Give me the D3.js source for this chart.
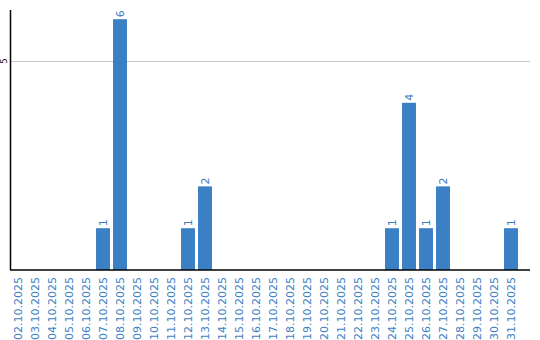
<!DOCTYPE html>
<html>
<head>
<meta charset="utf-8">
<script src="https://cdn.jsdelivr.net/npm/d3@7"></script>
<style>
  body { margin: 0; background: #fff; }
  svg { display: block; font-family: "DejaVu Sans", Verdana, sans-serif; }
</style>
</head>
<body>
<script>
'use strict';

// categories (days) and counts
const days = ["02.10.2025", "03.10.2025", "04.10.2025", "05.10.2025", "06.10.2025",
  "07.10.2025", "08.10.2025", "09.10.2025", "10.10.2025", "11.10.2025",
  "12.10.2025", "13.10.2025", "14.10.2025", "15.10.2025", "16.10.2025",
  "17.10.2025", "18.10.2025", "19.10.2025", "20.10.2025", "21.10.2025",
  "22.10.2025", "23.10.2025", "24.10.2025", "25.10.2025", "26.10.2025",
  "27.10.2025", "28.10.2025", "29.10.2025", "30.10.2025", "31.10.2025"];
const counts = [0, 0, 0, 0, 0, 1, 6, 0, 0, 0, 1, 2, 0, 0, 0,
  0, 0, 0, 0, 0, 0, 0, 1, 4, 1, 2, 0, 0, 0, 1];
const yTicks = [5];

const barColor = "#3b7fc4";

let svg = d3.select('body').append('svg')
  .attr('width', 540)
  .attr('height', 340);

let x = d3.scaleBand()
  .domain(days)
  .range([9.5, 519.5])
  .paddingInner(0.18)
  .paddingOuter(0.09);

let y = d3.scaleLinear()
  .domain([0, 6.22])
  .range([270, 10]);

// grid lines
svg.append('g')
  .selectAll('line')
  .data(yTicks)
  .enter()
  .append('line')
  .attr('x1', 11)
  .attr('x2', 530)
  .attr('y1', d => Math.round(y(d)) + 0.5)
  .attr('y2', d => Math.round(y(d)) + 0.5)
  .attr('stroke', '#c8c8c8')
  .attr('stroke-width', 1);

// y tick labels
svg.append('g')
  .selectAll('text')
  .data(yTicks)
  .enter()
  .append('text')
  .attr('transform', d => 'translate(7,' + y(d) + ')rotate(-90)')
  .attr('text-anchor', 'middle')
  .style('font-size', '8px')
  .attr('fill', '#000')
  .text(d => d);

// bars
let data = days.map((d, i) => ({ day: d, v: counts[i] }));

svg.append('g')
  .selectAll('rect')
  .data(data.filter(d => d.v > 0))
  .enter()
  .append('rect')
  .attr('x', d => x(d.day))
  .attr('y', d => y(d.v))
  .attr('width', x.bandwidth())
  .attr('height', d => y(0) - y(d.v))
  .attr('fill', barColor);

// value labels
svg.append('g')
  .selectAll('text')
  .data(data.filter(d => d.v > 0))
  .enter()
  .append('text')
  .attr('transform', d => 'translate(' + (x(d.day) + x.bandwidth() / 2 + 4) + ',' + (y(d.v) - 2) + ')rotate(-90)')
  .attr('text-anchor', 'start')
  .style('font-size', '11px')
  .attr('fill', barColor)
  .text(d => d.v);

// axes lines
svg.append('line')
  .attr('x1', 10.5).attr('x2', 10.5)
  .attr('y1', 10).attr('y2', 270)
  .attr('stroke', '#000').attr('stroke-width', 1.5);

svg.append('line')
  .attr('x1', 10).attr('x2', 530)
  .attr('y1', 270).attr('y2', 270)
  .attr('stroke', '#000').attr('stroke-width', 1.5);

// category labels
svg.append('g')
  .selectAll('text')
  .data(days)
  .enter()
  .append('text')
  .attr('transform', d => 'translate(' + (x(d) + x.bandwidth() / 2 + 4) + ',277)rotate(-90)')
  .attr('text-anchor', 'end')
  .style('font-size', '11px')
  .attr('fill', barColor)
  .text(d => d);
</script>
</body>
</html>
